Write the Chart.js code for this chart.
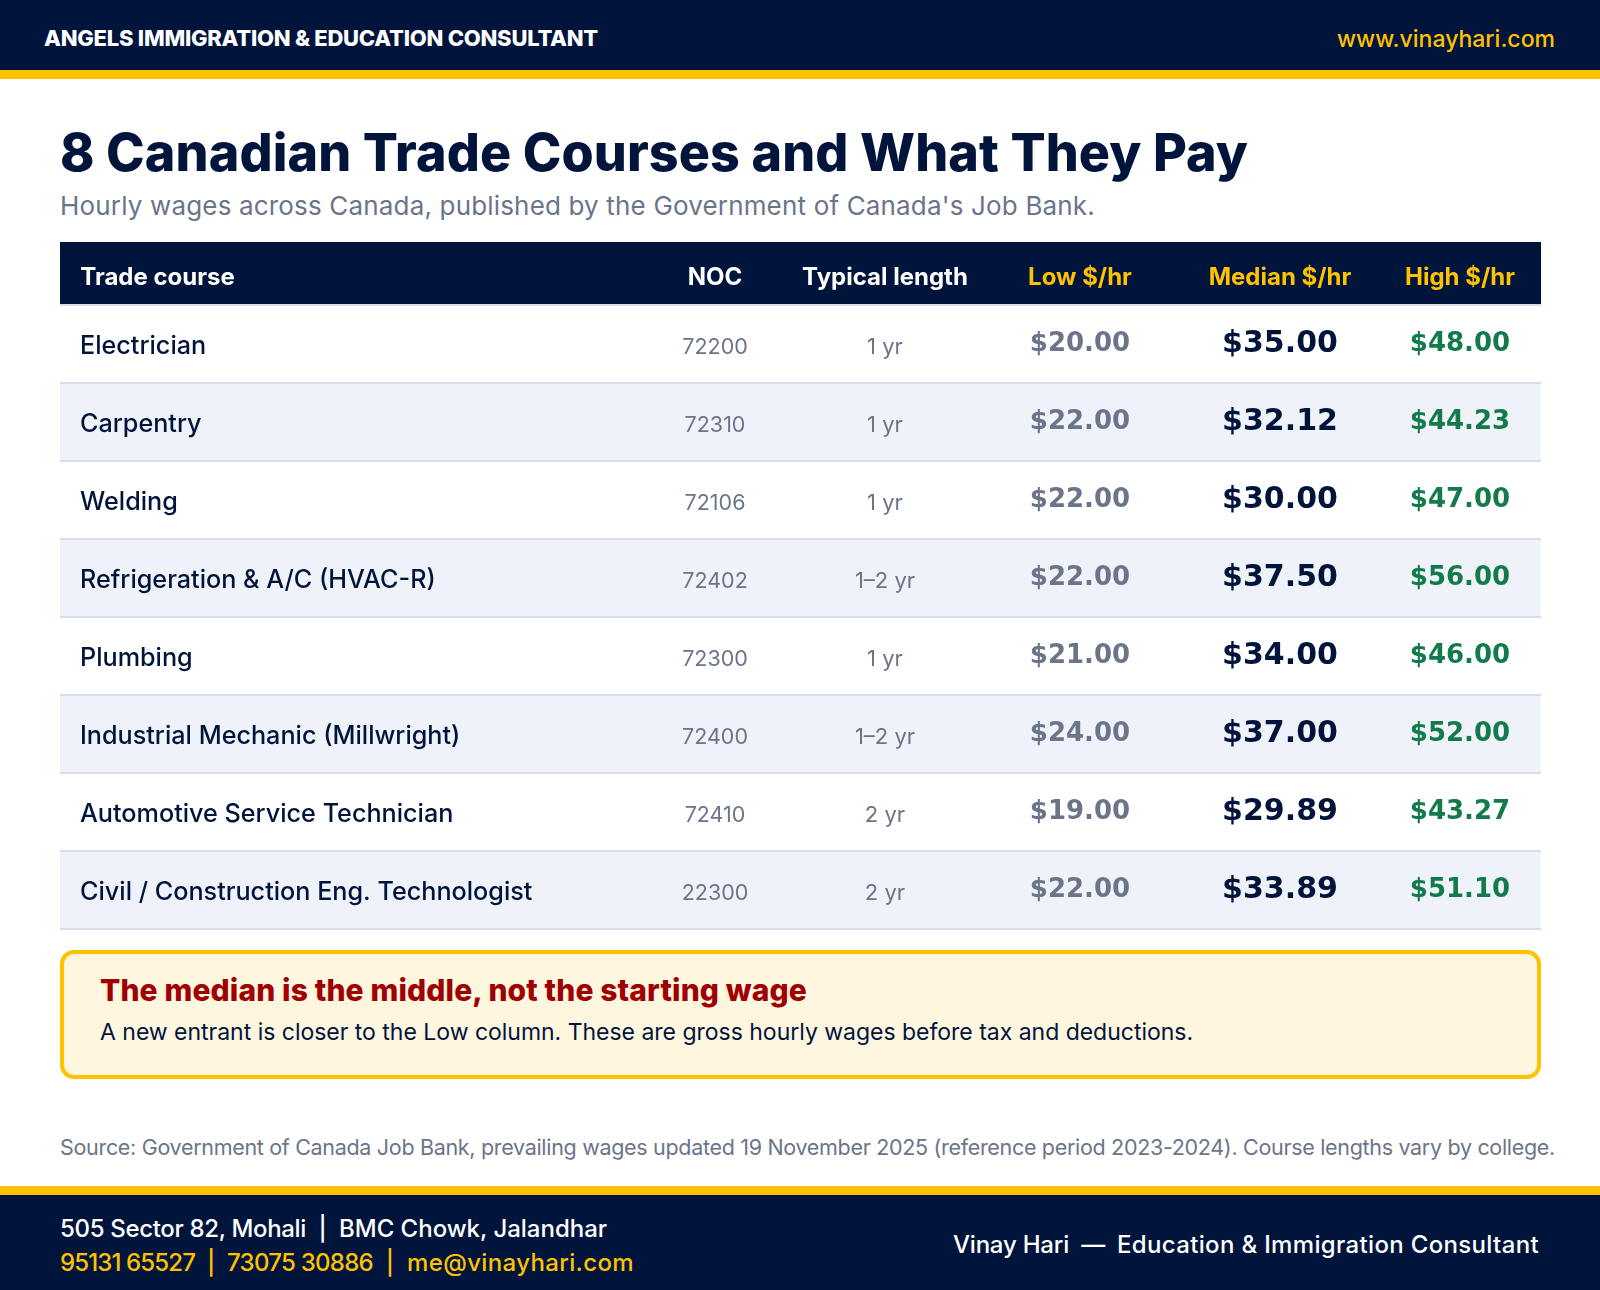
<!DOCTYPE html>
<html>
<head>
<meta charset="utf-8">
<script src="https://cdn.jsdelivr.net/npm/chart.js@4/dist/chart.umd.js"></script>
<style>
  html, body { margin: 0; padding: 0; background: #fff; }
  body { position: relative; width: 1600px; height: 1290px; overflow: hidden; font-family: Inter, sans-serif; }
  .band { position: absolute; left: 0; width: 1600px; }
  .t { position: absolute; white-space: pre; line-height: 1.2; }
  #tableWrap { position: absolute; left: 60px; top: 242px; width: 1481px; height: 688px; }
  #callout { position: absolute; left: 60px; top: 950px; width: 1481px; height: 129px; box-sizing: border-box;
    border: 4px solid #FFC200; border-radius: 14px; background: #FFF6E0; }
</style>
</head>
<body>
<div class="band" style="top:0;height:70px;background:#00143C"></div>
<div class="band" style="top:70px;height:9px;background:#FFC200"></div>
<div class="t" data-x="44" data-b="46" data-w="554" style="font-size:22px;font-weight:800;color:#fff">ANGELS IMMIGRATION &amp; EDUCATION CONSULTANT</div>
<div class="t" data-x="1337" data-b="47" data-w="218" style="font-size:23px;font-weight:500;color:#FFC200">www.vinayhari.com</div>

<div class="t" data-x="60" data-b="171" data-w="1188" style="font-size:52px;font-weight:800;color:#00143C">8 Canadian Trade Courses and What They Pay</div>
<div class="t" data-x="60" data-b="215" data-w="1035" style="font-size:26px;font-weight:400;color:#6B7489">Hourly wages across Canada, published by the Government of Canada's Job Bank.</div>

<div id="tableWrap"><canvas id="wageTable" width="1481" height="688"></canvas></div>

<div id="callout"></div>
<div class="t" data-x="100" data-b="1001" data-w="707" style="font-size:30px;font-weight:800;color:#A00000">The median is the middle, not the starting wage</div>
<div class="t" data-x="100" data-b="1040" data-w="1093" style="font-size:23px;font-weight:400;color:#00143C">A new entrant is closer to the Low column. These are gross hourly wages before tax and deductions.</div>

<div class="t" data-x="60" data-b="1155" data-w="1495" style="font-size:21.5px;font-weight:400;color:#6B7489">Source: Government of Canada Job Bank, prevailing wages updated 19 November 2025 (reference period 2023-2024). Course lengths vary by college.</div>

<div class="band" style="top:1186px;height:9px;background:#FFC200"></div>
<div class="band" style="top:1195px;height:95px;background:#00143C"></div>
<div class="t" data-x="60" data-b="1237" style="font-size:24px;font-weight:500;color:#fff"><span data-w="246">505 Sector 82, Mohali</span><span data-w="33">  |  </span><span data-w="268">BMC Chowk, Jalandhar</span></div>
<div class="t" data-x="60" data-b="1271" style="font-size:24px;font-weight:500;color:#FFC200"><span data-w="135">95131 65527</span><span data-w="32">  |  </span><span data-w="146">73075 30886</span><span data-w="34">  |  </span><span data-w="227">me@vinayhari.com</span></div>
<div class="t" data-x="953" data-b="1253" style="font-size:24px;font-weight:500;color:#fff"><span data-w="116">Vinay Hari</span><span data-w="48">  —  </span><span data-w="422">Education &amp; Immigration Consultant</span></div>

<script>
const columns = ['Trade course', 'NOC', 'Typical length', 'Low $/hr', 'Median $/hr', 'High $/hr'];
const courses = ['Electrician', 'Carpentry', 'Welding', 'Refrigeration & A/C (HVAC-R)', 'Plumbing',
  'Industrial Mechanic (Millwright)', 'Automotive Service Technician', 'Civil / Construction Eng. Technologist'];
const nocCodes = ['72200', '72310', '72106', '72402', '72300', '72400', '72410', '22300'];
const lengths = ['1 yr', '1 yr', '1 yr', '1–2 yr', '1 yr', '1–2 yr', '2 yr', '2 yr'];
const lowWage = [20.00, 22.00, 22.00, 22.00, 21.00, 24.00, 19.00, 22.00];
const medianWage = [35.00, 32.12, 30.00, 37.50, 34.00, 37.00, 29.89, 33.89];
const highWage = [48.00, 44.23, 47.00, 56.00, 46.00, 52.00, 43.27, 51.10];

const NAVY = '#00143C', GOLD = '#FFC200', SLATE = '#6B7489', GREEN = '#127A4B';
const money = v => '$' + v.toFixed(2);

function fitWidth(el) {
  const gap = (el.dataset.w - el.getBoundingClientRect().width) / el.textContent.length;
  el.style.letterSpacing = gap.toFixed(3) + 'px';
}

// line the page text up on its baseline and stretch it to the width of the original
document.querySelectorAll('.t').forEach(el => {
  el.style.left = el.dataset.x + 'px';
  el.style.top = '0px';
  const probe = document.createElement('span');
  probe.style.cssText = 'display:inline-block;width:0;height:0';
  el.appendChild(probe);
  el.style.top = (el.dataset.b - probe.getBoundingClientRect().bottom) + 'px';
  el.removeChild(probe);
  if (el.dataset.w) fitWidth(el);
  el.querySelectorAll('span[data-w]').forEach(fitWidth);
});

// category axis with columns of unequal width
class ColumnScale extends Chart.CategoryScale {
  getPixelForValue(value) {
    if (typeof value !== 'number') value = this.parse(value);
    return this.left + this.options.centres[value];
  }
}
ColumnScale.id = 'column';
ColumnScale.defaults = Chart.CategoryScale.defaults;
Chart.register(ColumnScale);

function cellSet(column, texts, font, color, dy) {
  return {
    label: column,
    data: courses.map(c => ({ x: column, y: c })),
    texts, font, color, dy,
    pointRadius: 0
  };
}

const tableBands = {
  id: 'tableBands',
  beforeDraw(chart) {
    const { ctx, chartArea, scales: { x, y } } = chart;
    ctx.save();
    ctx.fillStyle = NAVY;
    ctx.fillRect(chartArea.left, 0, chartArea.width, x.bottom - 1);
    ctx.fillStyle = '#EFF2F8';
    courses.forEach((c, i) => {
      if (i % 2 === 0) return;
      const top = y.getPixelForValue(i - 0.5);
      ctx.fillRect(chartArea.left, top, chartArea.width, y.getPixelForValue(i + 0.5) - top);
    });
    ctx.restore();
  }
};

const cellText = {
  id: 'cellText',
  afterDatasetsDraw(chart) {
    const ctx = chart.ctx;
    chart.data.datasets.forEach((ds, d) => {
      ctx.save();
      ctx.font = ds.font;
      ctx.fillStyle = ds.color;
      ctx.textAlign = 'center';
      ctx.textBaseline = 'alphabetic';
      chart.getDatasetMeta(d).data.forEach((pt, i) => ctx.fillText(ds.texts[i], pt.x, pt.y + ds.dy));
      ctx.restore();
    });
  }
};

new Chart(document.getElementById('wageTable'), {
  type: 'scatter',
  data: {
    xLabels: columns,
    yLabels: courses,
    datasets: [
      cellSet('NOC', nocCodes, '400 21.5px Inter', SLATE, 10),
      cellSet('Typical length', lengths, '400 22px Inter', SLATE, 10),
      cellSet('Low $/hr', lowWage.map(money), 'bold 26px "DejaVu Sans"', SLATE, 7),
      cellSet('Median $/hr', medianWage.map(money), 'bold 30px "DejaVu Sans"', NAVY, 8),
      cellSet('High $/hr', highWage.map(money), 'bold 26px "DejaVu Sans"', GREEN, 7)
    ]
  },
  options: {
    responsive: false,
    animation: false,
    events: [],
    layout: { padding: { top: 8, bottom: 1 } },
    plugins: { legend: { display: false }, tooltip: { enabled: false } },
    scales: {
      x: {
        type: 'column',
        position: 'top',
        centres: [97.5, 655, 825, 1020, 1220, 1400],
        grid: { display: false, drawTicks: false },
        border: { display: false },
        ticks: {
          autoSkip: false,
          maxRotation: 0,
          minRotation: 0,
          padding: 13.1,
          color: c => (c.index < 3 ? '#fff' : GOLD),
          font: { family: 'Inter', size: 24, weight: '700' }
        }
      },
      y: {
        type: 'category',
        offset: true,
        afterFit(scale) {
          // mirrored labels sit inside the plot, so the axis takes no room
          scale.width = 0;
          scale.paddingTop = 0;
          scale.paddingBottom = 0;
        },
        grid: { offset: true, color: '#D9DEEB', lineWidth: 2, drawTicks: false },
        border: { display: false },
        ticks: {
          mirror: true,
          padding: 20,
          labelOffset: 2,
          autoSkip: false,
          color: NAVY,
          font: { family: 'Inter', size: 25.2, weight: '500' }
        }
      }
    }
  },
  plugins: [tableBands, cellText]
});
</script>
</body>
</html>
